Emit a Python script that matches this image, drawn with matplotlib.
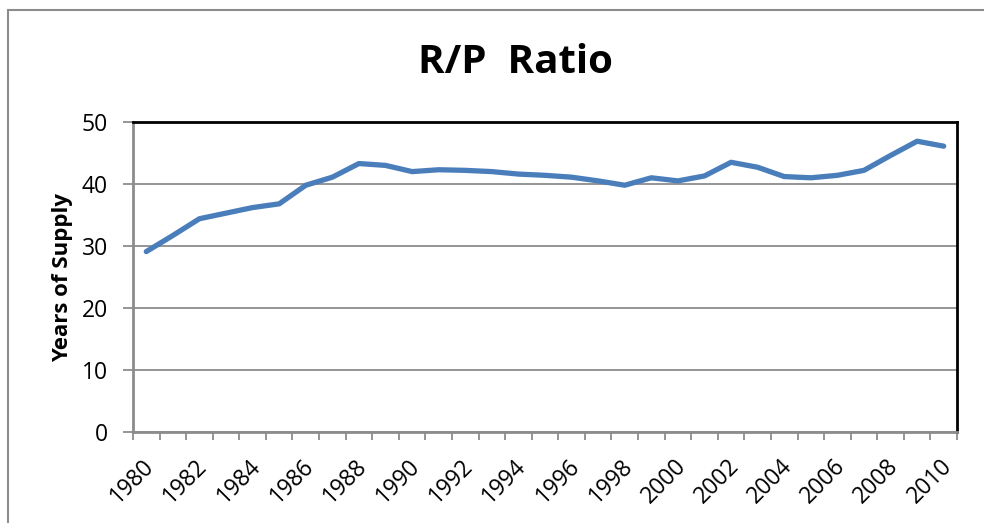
import matplotlib.pyplot as plt
import matplotlib.transforms as mtransforms
from matplotlib.patches import Rectangle

years = list(range(1980, 2011))
ratio = [29.1, 31.7, 34.4, 35.3, 36.2, 36.8, 39.8, 41.1, 43.3, 43.0,
         42.0, 42.3, 42.2, 42.0, 41.6, 41.4, 41.1, 40.5, 39.8, 41.0,
         40.5, 41.3, 43.5, 42.7, 41.2, 41.0, 41.4, 42.2, 44.6, 46.9,
         46.1]
label_years = [y for y in years if y % 2 == 0]

plt.rcParams['font.family'] = ['Open Sans', 'DejaVu Sans']

fig = plt.figure(figsize=(9.84, 5.23), dpi=100)
ax = fig.add_axes([133/984, 91/523, 824/984, 310/523])

# outer chart border (cut off at right and bottom in the original)
fig.patches.append(Rectangle((8/984, -0.05), 1.1, (513/523) + 0.05,
                             transform=fig.transFigure, fill=False,
                             edgecolor='#8c8c8c', linewidth=1.5))

x = [i + 0.5 for i in range(len(years))]
ax.plot(x, ratio, color='#4a7ebb', linewidth=3.8, solid_capstyle='round',
        solid_joinstyle='round', zorder=3)

ax.set_xlim(0, len(years))
ax.set_ylim(0, 50)
ax.set_yticks(range(0, 51, 10))
ax.yaxis.grid(True, color='#8c8c8c', linewidth=1.3)
ax.set_axisbelow(True)

# category boundaries get tick marks, labels sit at category centres
ax.set_xticks(range(len(years) + 1))
ax.set_xticklabels([])
ax.set_xticks([x[years.index(y)] for y in label_years], minor=True)
ax.set_xticklabels([str(y) for y in label_years], minor=True,
                   rotation=45, ha='right', rotation_mode='anchor',
                   fontsize=16.5)
ax.tick_params(axis='x', which='major', length=6, width=1.3,
               color='#8c8c8c', direction='out')
ax.tick_params(axis='x', which='minor', length=0, pad=16)
ax.tick_params(axis='y', length=7, width=1.3, color='#8c8c8c',
               labelsize=16.5, pad=11)

# nudge rotated year labels a little to the left
shift = mtransforms.ScaledTranslation(-4/100, 0, fig.dpi_scale_trans)
for lab in ax.get_xticklabels(minor=True):
    lab.set_transform(lab.get_transform() + shift)

for s in ['left', 'bottom']:
    ax.spines[s].set_color('#8c8c8c')
    ax.spines[s].set_linewidth(2)
for s in ['top', 'right']:
    ax.spines[s].set_color('black')
    ax.spines[s].set_linewidth(2)

ax.set_ylabel('Years of Supply', fontsize=16, fontweight='bold', labelpad=6)
fig.text(515/984, 1 - 62/523, 'R/P  Ratio', fontsize=29, fontweight='bold',
         ha='center', va='center')

fig.savefig('out.png', dpi=100)
